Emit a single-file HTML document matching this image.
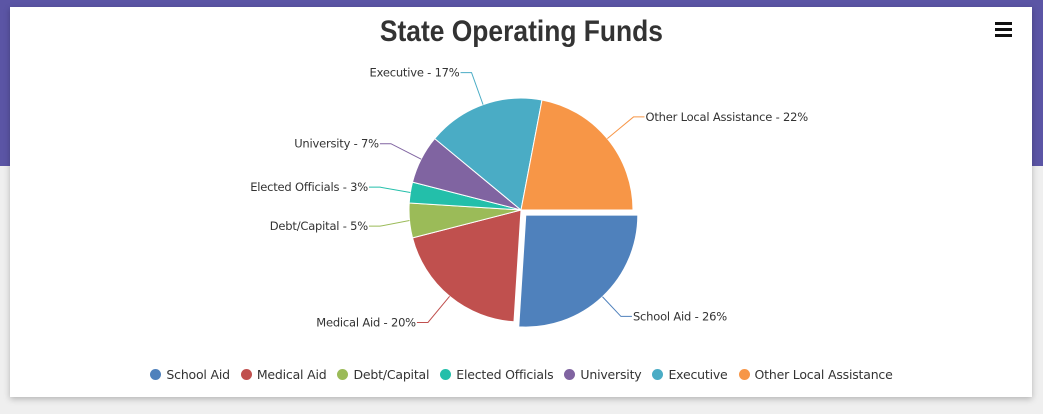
<!DOCTYPE html>
<html><head><meta charset="utf-8"><style>
body{margin:0;width:1043px;height:414px;overflow:hidden;background:#efefef;font-family:"DejaVu Sans",sans-serif;position:relative}
#band{position:absolute;left:0;top:0;width:1043px;height:166px;background:#5b55a5}
#card{position:absolute;left:10px;top:7px;width:1022px;height:390px;background:#fff;box-shadow:0 2px 6px rgba(0,0,0,.25)}
#title{position:absolute;left:0;width:1043px;top:15px;text-align:center;font-family:"Liberation Sans Narrow","Liberation Sans",sans-serif;font-weight:bold;font-size:30px;color:#333;transform:scaleX(0.88);transform-origin:521px 0}
#menu{position:absolute;left:995px;top:22px;width:17px}
#menu div{height:3px;background:#111;margin-bottom:3px}
#legend{position:absolute;left:0;width:1043px;top:367px;display:flex;justify-content:center;gap:11px;font-size:12.5px;color:#333;letter-spacing:-0.2px}
.li{display:flex;align-items:center}
.dot{width:11px;height:11px;border-radius:50%;margin-right:5px}
svg{position:absolute;left:0;top:0}
</style></head><body>
<div id="band"></div>
<div id="card"></div>
<div id="title">State Operating Funds</div>
<div id="menu"><div></div><div></div><div></div></div>
<svg id="pie" width="1043" height="414"></svg>
<div id="legend"></div>
<script>
const categories=["School Aid","Medical Aid","Debt/Capital","Elected Officials","University","Executive","Other Local Assistance"];
const values=[26,20,5,3,7,17,22];
const colors=["#4f81bc","#c0504e","#9bbb58","#23bfaa","#8064a1","#4aacc5","#f79647"];
const NS="http://www.w3.org/2000/svg";
const svg=document.getElementById('pie');
const cx=521,cy=210,r=112,R=146,explode=7;
const total=values.reduce((a,b)=>a+b,0);
function mk(t,a){const e=document.createElementNS(NS,t);for(const k in a)e.setAttribute(k,a[k]);return e;}
let acc=0;const labels=[];
values.forEach((v,i)=>{
 const a0=acc/total*2*Math.PI,a1=(acc+v)/total*2*Math.PI,am=(a0+a1)/2;acc+=v;
 const off=i===0?explode:0;
 const ox=cx+off*Math.cos(am),oy=cy+off*Math.sin(am);
 const large=(a1-a0)>Math.PI?1:0;
 const d=`M${ox},${oy}L${ox+r*Math.cos(a0)},${oy+r*Math.sin(a0)}A${r},${r} 0 ${large} 1 ${ox+r*Math.cos(a1)},${oy+r*Math.sin(a1)}Z`;
 const p=mk('path',{d:d,fill:colors[i],stroke:'#fff','stroke-width':1});
 
 
 svg.appendChild(p);
 const ex=Math.max(380,Math.min(640,cx+R*Math.cos(am)));
 labels.push({i,am,ax:ox+r*Math.cos(am),ay:oy+r*Math.sin(am),ex:ex,ey:cy+R*Math.sin(am),right:Math.cos(am)>=0});
});
[true,false].forEach(side=>{
 const s=labels.filter(l=>l.right===side).sort((a,b)=>a.ey-b.ey);
 for(let k=1;k<s.length;k++){if(s[k].ey<s[k-1].ey+39)s[k].ey=s[k-1].ey+39;}
});
labels.forEach(l=>{
 const dir=l.right?1:-1;
 const pl=mk('polyline',{points:`${l.ax},${l.ay} ${l.ex},${l.ey} ${l.ex+dir*11},${l.ey}`,fill:'none',stroke:colors[l.i],'stroke-width':1});
 
 
 svg.appendChild(pl);
 const t=mk('text',{x:l.ex+dir*12,y:l.ey+4,'text-anchor':l.right?'start':'end','font-size':11.5,fill:'#333','font-family':'"DejaVu Sans",sans-serif','letter-spacing':'-0.2'});
 t.textContent=categories[l.i]+' - '+values[l.i]+'%';
 
 
 svg.appendChild(t);
});
const lg=document.getElementById('legend');
categories.forEach((c,i)=>{
 const it=document.createElement('div');it.className='li';
 
 
 it.innerHTML=`<span class="dot" style="background:${colors[i]}"></span><span>${c}</span>`;
 lg.appendChild(it);
});
</script>
</body></html>
